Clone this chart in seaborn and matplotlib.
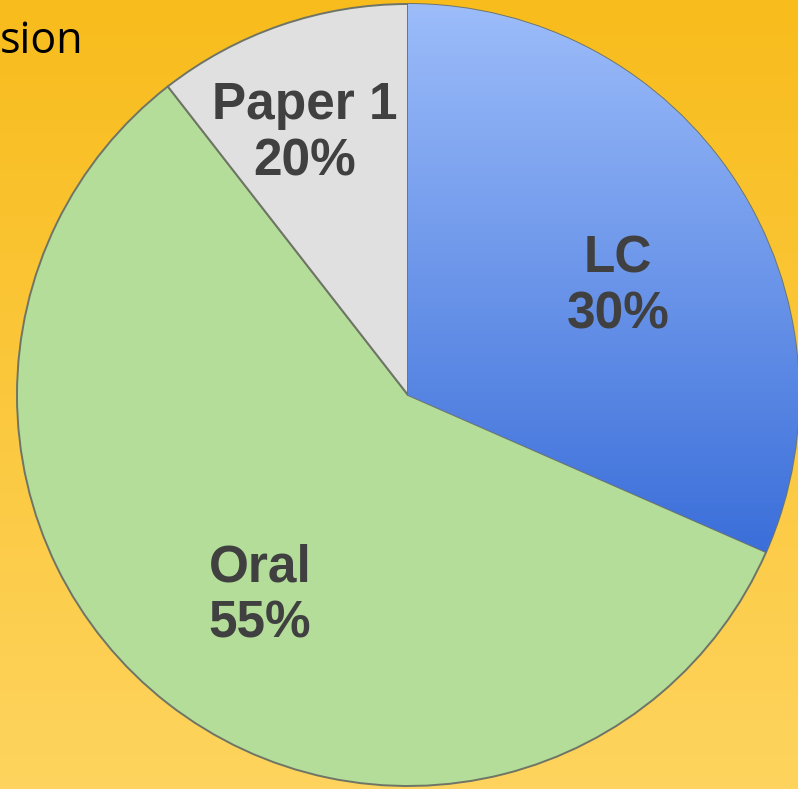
import numpy as np
import seaborn as sns
import matplotlib.pyplot as plt
from matplotlib.colors import LinearSegmentedColormap

sns.set_theme(style="white")
plt.rcParams['font.family'] = ['Liberation Sans', 'DejaVu Sans']

# data (wedge sizes) and the printed labels
parts = ['LC', 'Oral', 'Paper 1']
sizes = [30, 55, 10]
shown_pct = ['30%', '55%', '20%']
colors = ['#6b95ec', '#b3dd98', '#e0e0e0']

W, H = 798, 789
fig = plt.figure(figsize=(W / 100, H / 100), dpi=100)
ax = fig.add_axes([0, 0, 1, 1])

# orange background gradient
bg = LinearSegmentedColormap.from_list('bg', ['#fed45e', '#f8bc1c'])
grad = np.linspace(0, 1, 256).reshape(-1, 1)
ax.imshow(grad, cmap=bg, extent=[0, W, 0, H], origin='lower', aspect='auto', zorder=0)

ax.text(0, H - 42, 'sion', fontsize=31, color='black', family=['Open Sans', 'DejaVu Sans'],
        va='center', ha='left', zorder=1)

cx, cy, r = 408, H - 395, 391
wedges, _ = ax.pie(sizes, colors=colors, startangle=90, counterclock=False,
                   center=(cx, cy), radius=r, frame=True,
                   wedgeprops=dict(edgecolor='#6f7566', linewidth=1.4, zorder=2))
ax.set_xlim(0, W)
ax.set_ylim(0, H)
ax.set_aspect('equal')
ax.axis('off')

# blue gradient in the LC wedge
blue = LinearSegmentedColormap.from_list('blue', ['#3a6ed9', '#9dbdfa'])
im = ax.imshow(grad, cmap=blue, extent=[cx, cx + r, H - 555, H], origin='lower',
               aspect='auto', zorder=3)
im.set_clip_path(wedges[0])

label_pos = [(618, H - 287), (260, H - 596), (305, H - 134)]
for name, pct, (x, y) in zip(parts, shown_pct, label_pos):
    ax.text(x, y, name + '\n' + pct, fontsize=37, fontweight='bold', color='#404040',
            ha='center', va='center', linespacing=1.2, zorder=5)

fig.savefig('out.png', dpi=100)
